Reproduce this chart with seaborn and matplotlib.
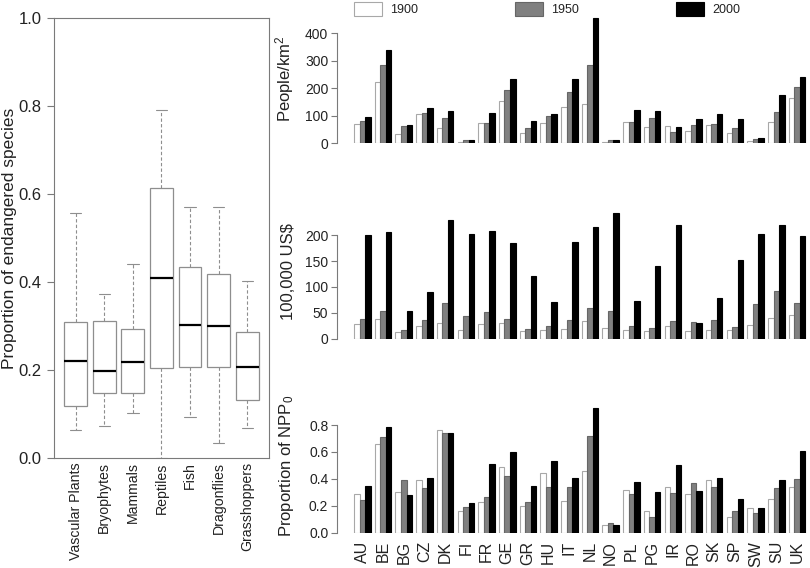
import numpy as np
import pandas as pd
import matplotlib
matplotlib.use('Agg')
import matplotlib.pyplot as plt
from matplotlib.patches import Patch
from matplotlib.ticker import FormatStrFormatter
import seaborn as sns

# --- data ---
groups = ["Vascular Plants", "Bryophytes", "Mammals", "Reptiles", "Fish",
          "Dragonflies", "Grasshoppers"]
# five-number summaries: min, Q1, median, Q3, max
box_low = [0.064, 0.072, 0.102, 0.000, 0.094, 0.035, 0.069]
box_q1 = [0.118, 0.148, 0.148, 0.204, 0.207, 0.207, 0.131]
box_med = [0.220, 0.198, 0.218, 0.409, 0.303, 0.299, 0.207]
box_q3 = [0.309, 0.312, 0.293, 0.614, 0.435, 0.419, 0.287]
box_high = [0.556, 0.372, 0.440, 0.791, 0.570, 0.571, 0.402]

countries = ["AU", "BE", "BG", "CZ", "DK", "FI", "FR", "GE", "GR", "HU", "IT",
             "NL", "NO", "PL", "PG", "IR", "RO", "SK", "SP", "SW", "SU", "UK"]
years = ["1900", "1950", "2000"]

density_1900 = [70, 222, 34, 108, 55, 6, 73, 152, 36, 75, 132, 143, 6, 77, 60, 63, 46, 67, 37, 10, 78, 166]
density_1950 = [81, 284, 64, 110, 93, 11, 73, 192, 55, 101, 187, 284, 11, 77, 93, 40, 67, 70, 57, 16, 114, 205]
density_2000 = [94, 339, 67, 128, 117, 12, 110, 233, 82, 107, 232, 456, 13, 122, 116, 58, 89, 108, 89, 19, 177, 241]

gdp_1900 = [29, 37, 13, 25, 30, 17, 29, 30, 14, 17, 18, 34, 20, 16, 14, 25, 15, 16, 17, 26, 39, 45]
gdp_1950 = [37, 54, 17, 36, 69, 43, 52, 38, 19, 25, 36, 60, 54, 25, 21, 34, 32, 36, 22, 67, 92, 69]
gdp_2000 = [201, 207, 53, 90, 230, 202, 208, 186, 121, 71, 187, 216, 243, 72, 141, 220, 30, 79, 153, 203, 220, 198]

npp_1900 = [0.29, 0.66, 0.30, 0.39, 0.76, 0.16, 0.23, 0.49, 0.20, 0.44, 0.235, 0.46, 0.06, 0.32, 0.16, 0.34, 0.285, 0.39, 0.12, 0.185, 0.25, 0.34]
npp_1950 = [0.24, 0.71, 0.39, 0.33, 0.74, 0.19, 0.265, 0.42, 0.23, 0.34, 0.34, 0.72, 0.07, 0.29, 0.12, 0.295, 0.37, 0.34, 0.16, 0.145, 0.33, 0.40]
npp_2000 = [0.35, 0.785, 0.28, 0.41, 0.74, 0.22, 0.51, 0.60, 0.35, 0.53, 0.41, 0.93, 0.057, 0.38, 0.30, 0.50, 0.31, 0.41, 0.25, 0.18, 0.39, 0.61]

W, H = 810, 568
sns.set_theme(style="white")
plt.rcParams['font.family'] = ['Liberation Sans', 'DejaVu Sans']
plt.rcParams['mathtext.default'] = 'regular'

text_col = '#222222'
axis_col = '#7a7a7a'
fills = {"1900": "#ffffff", "1950": "#808080", "2000": "#000000"}
edges = {"1900": "#a8a8a8", "1950": "#666666", "2000": "#000000"}

fig = plt.figure(figsize=(W / 100, H / 100), dpi=100)


def fx(px):
    return px / W


def fy(py):
    return 1 - py / H


# --- left: boxplot ---
box_df = pd.DataFrame({
    "group": np.repeat(groups, 5),
    "value": np.column_stack([box_low, box_q1, box_med, box_q3, box_high]).ravel(),
})
ax0 = fig.add_axes([fx(53.6), fy(458), fx(269 - 53.6), (458 - 18) / H])
sns.boxplot(data=box_df, x="group", y="value", whis=np.inf, width=0.8,
            color="white", saturation=1, linecolor="#8e8e8e", linewidth=0.9,
            medianprops=dict(color="black", linewidth=1.6),
            whiskerprops=dict(linestyle=(0, (3, 2)), color="#8e8e8e", linewidth=0.8),
            capprops=dict(color="#8e8e8e", linewidth=0.8),
            ax=ax0)
ax0.set_xlim(-0.77, 6.76)
ax0.set_ylim(0, 1)
ax0.set_yticks(np.arange(0, 1.01, 0.2))
ax0.yaxis.set_major_formatter(FormatStrFormatter('%.1f'))
ax0.set_xlabel("")
ax0.set_ylabel("Proportion of endangered species", fontsize=12.5, color=text_col)
ax0.yaxis.set_label_coords(-0.168, 0.5)
for s in ax0.spines.values():
    s.set_color(axis_col)
    s.set_linewidth(0.8)
ax0.tick_params(axis='y', left=True, length=5, width=0.8, color=axis_col,
                labelsize=12, labelcolor=text_col)
ax0.tick_params(axis='x', length=0, labelsize=10.2, labelcolor=text_col,
                rotation=90, pad=3)

# --- right: three bar panels ---
panels = [
    ([density_1900, density_1950, density_2000], 143.3, 15, 466.5,
     [0, 100, 200, 300, 400], 'People/km$^2$', '%d'),
    ([gdp_1900, gdp_1950, gdp_2000], 338.5, 205, 258.7,
     [0, 50, 100, 150, 200], '100,000 US$', '%d'),
    ([npp_1900, npp_1950, npp_2000], 532.7, 400, 0.986,
     [0, 0.2, 0.4, 0.6, 0.8], 'Proportion of NPP$_0$', '%.1f'),
]

left_px, right_px = 336.7, 808
for i, (series, bottom_px, top_px, ymax, ticks, label, fmt) in enumerate(panels):
    ax = fig.add_axes([fx(left_px), fy(bottom_px), fx(right_px - left_px),
                       (bottom_px - top_px) / H])
    df = pd.DataFrame({
        "country": countries * 3,
        "year": np.repeat(years, len(countries)),
        "value": np.concatenate(series),
    })
    sns.barplot(data=df, x="country", y="value", hue="year", hue_order=years,
                order=countries, palette=fills, saturation=1, width=0.8,
                errorbar=None, legend=False, ax=ax)
    for cont, yr in zip(ax.containers, years):
        for bar in cont:
            bar.set_edgecolor(edges[yr])
            bar.set_linewidth(0.8)
    ax.set_xlim(-1.24, (right_px - 362.3) / 20.7)
    ax.set_ylim(0, ymax)
    ax.set_yticks(ticks)
    ax.yaxis.set_major_formatter(FormatStrFormatter(fmt))
    for side in ["top", "right", "bottom"]:
        ax.spines[side].set_visible(False)
    ax.spines["left"].set_bounds(ticks[0], ticks[-1])
    ax.spines["left"].set_color(axis_col)
    ax.spines["left"].set_linewidth(0.8)
    ax.tick_params(axis='y', left=True, length=4, width=0.8, color=axis_col,
                   labelsize=10, labelcolor=text_col, pad=2)
    ax.set_xlabel("")
    ax.set_ylabel(label, fontsize=12, color=text_col)
    ax.yaxis.set_label_coords(-0.086, 0.5)
    if i < 2:
        ax.set_xticklabels([])
        ax.tick_params(axis='x', length=0)
    else:
        ax.tick_params(axis='x', length=0, labelsize=11.5, labelcolor=text_col,
                       rotation=90, pad=6)

handles = [Patch(facecolor=fills[y], edgecolor=edges[y], linewidth=0.8) for y in years]
fig.legend(handles, years, loc='upper left', bbox_to_anchor=(fx(354), fy(1.7)),
           ncol=3, frameon=False, fontsize=9, handlelength=2.2, handleheight=1.44,
           handletextpad=0.66, columnspacing=7.8, borderpad=0, borderaxespad=0,
           labelcolor=text_col)

fig.savefig("out.png", dpi=100)
